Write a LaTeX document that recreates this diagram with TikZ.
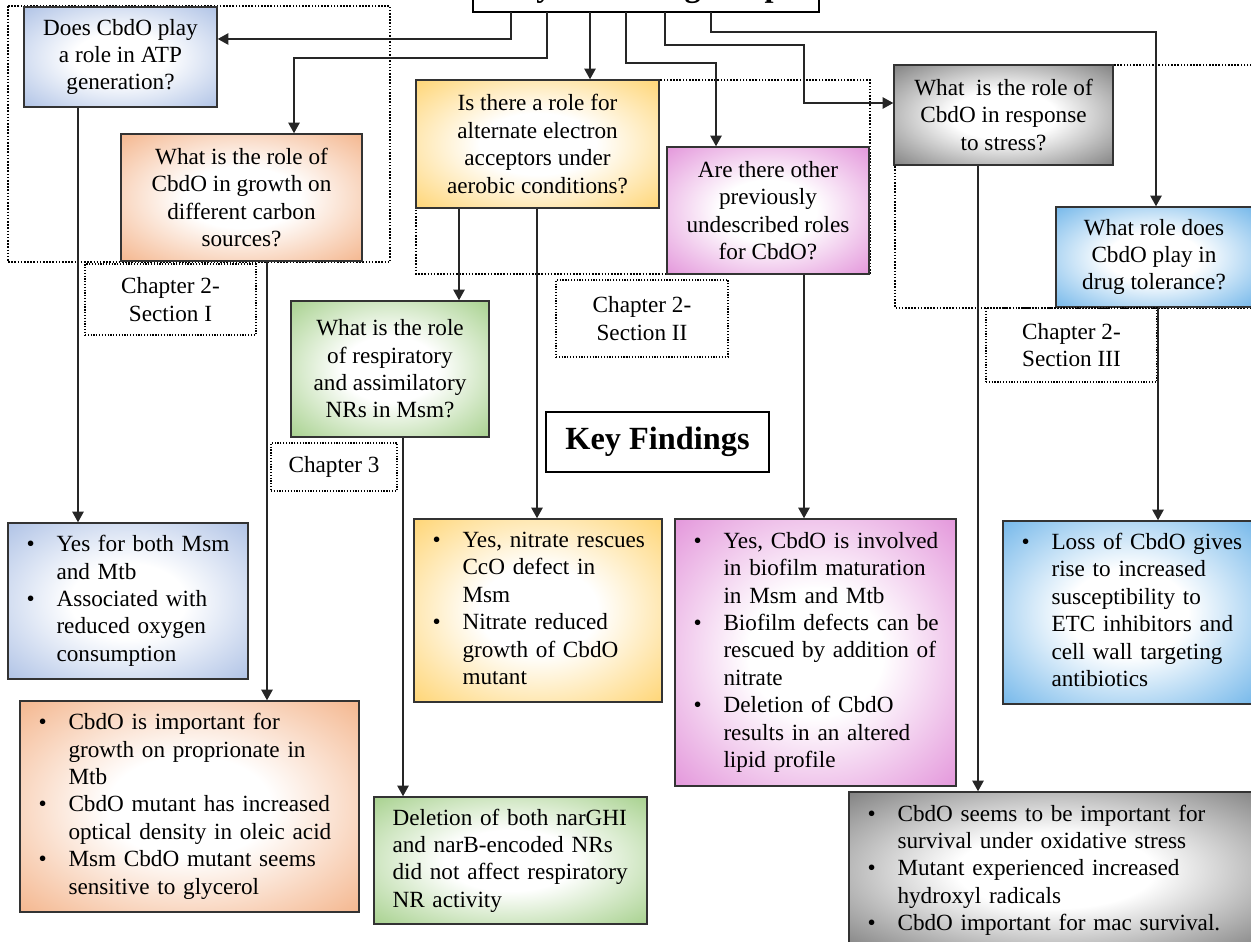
\documentclass[tikz,border=0pt]{standalone}
\usepackage{fontspec}
\setmainfont{Liberation Serif}
\usetikzlibrary{arrows.meta,calc}

\definecolor{atpblue}{RGB}{160,183,225}
\definecolor{carbonorange}{RGB}{242,168,120}
\definecolor{acceptoryellow}{RGB}{255,205,90}
\definecolor{otherpink}{RGB}{222,130,212}
\definecolor{stressgray}{RGB}{105,105,105}
\definecolor{drugcyan}{RGB}{90,170,230}
\definecolor{nrgreen}{RGB}{150,200,120}
\colorlet{boxedge}{gray}

% white centre, colour towards the rim
\pgfdeclareradialshading[boxedge]{softrim}{\pgfpoint{0bp}{0bp}}{%
  color(0bp)=(white); color(12bp)=(white); color(26bp)=(boxedge!50!white);
  color(36bp)=(boxedge!85!white); color(46bp)=(boxedge); color(50bp)=(boxedge)}

\newenvironment{findlist}{\begin{tabular}{@{}p{0.6cm}@{}l@{}}}{\end{tabular}}

\begin{document}
\begin{tikzpicture}[x=0.02cm,y=-0.02cm,>={Triangle[length=6pt,width=6.5pt]},
  every node/.style={font=\fontsize{13.2}{15.6}\selectfont},
  qbox/.style={draw=black!80,line width=0.9pt,/utils/exec={\colorlet{boxedge}{#1}},shade,shading=softrim,
    align=center,inner sep=2pt},
  findbox/.style={qbox=#1,align=left,inner xsep=0.37cm},
  grp/.style={line width=0.9pt,dash pattern=on 0.9pt off 0.9pt},
  chap/.style={draw,line width=0.7pt,dash pattern=on 0.7pt off 0.9pt,align=center},
  conn/.style={->,draw=black!85,line width=0.6pt},
  bigbox/.style={draw,line width=1.1pt,font=\fontsize{18.4}{22}\selectfont\bfseries}]
\clip (0,0) rectangle (1251,942);

% chapter groups
\draw[grp] (8,6) rectangle (390,262);
\draw[grp] (416,80) rectangle (870,274);
\draw[grp] (895,65) rectangle (1262,308);

% questions
\node[bigbox,minimum width=6.92cm,minimum height=0.94cm] (title) at (646,-11.5) {Key Knowledge Gaps};
\node[qbox=atpblue,minimum width=3.86cm,minimum height=2cm] (qatp) at (120.5,57)
  {Does CbdO play\\a role in ATP\\generation?};
\node[qbox=carbonorange,minimum width=4.82cm,minimum height=2.54cm] (qcarbon) at (241.5,197.5)
  {What is the role of\\CbdO in growth on\\different carbon\\sources?};
\node[qbox=acceptoryellow,minimum width=4.86cm,minimum height=2.56cm] (qacceptor) at (537.5,144)
  {Is there a role for\\alternate electron\\acceptors under\\aerobic conditions?};
\node[qbox=otherpink,minimum width=4.04cm,minimum height=2.54cm] (qother) at (768,210.5)
  {Are there other\\previously\\undescribed roles\\for CbdO?};
\node[qbox=stressgray,minimum width=4.38cm,minimum height=2cm] (qstress) at (1003.5,115)
  {What\ \ is the role of\\CbdO in response\\to stress?};
\node[qbox=drugcyan,minimum width=3.92cm,minimum height=2cm] (qdrug) at (1154,257)
  {What role does\\CbdO play in\\drug tolerance?};
\node[qbox=nrgreen,minimum width=3.96cm,minimum height=2.72cm] (qnr) at (390,369)
  {What is the role\\of respiratory\\and assimilatory\\NRs in Msm?};

% chapter labels
\node[chap,minimum width=3.42cm,minimum height=1.42cm] (ch1) at (170.5,299.5) {Chapter 2-\\Section I};
\node[chap,minimum width=3.44cm,minimum height=1.54cm] (ch2) at (642,318.5) {Chapter 2-\\Section II};
\node[chap,minimum width=3.42cm,minimum height=1.48cm] (ch3) at (1071.5,345) {Chapter 2-\\Section III};
\node[chap,minimum width=2.52cm,minimum height=0.96cm] (chap3) at (334,467) {Chapter 3};
\node[bigbox,minimum width=4.46cm,minimum height=1.2cm] (keyf) at (657.5,442) {Key Findings};

% findings
\node[findbox=atpblue,text width=4.06cm,minimum height=3.12cm] (fatp) at (128,601) {\begin{findlist}
  \textbullet & Yes for both Msm\\ & and Mtb\\
  \textbullet & Associated with\\ & reduced oxygen\\ & consumption
\end{findlist}};
\node[findbox=carbonorange,text width=6.04cm,minimum height=4.22cm] (fcarbon) at (189.5,806.5) {\begin{findlist}
  \textbullet & CbdO is important for\\ & growth on proprionate in\\ & Mtb\\
  \textbullet & CbdO mutant has increased\\ & optical density in oleic acid\\
  \textbullet & Msm CbdO mutant seems\\ & sensitive to glycerol
\end{findlist}};
\node[findbox=acceptoryellow,text width=4.22cm,minimum height=3.66cm] (facceptor) at (538,610.5) {\begin{findlist}
  \textbullet & Yes, nitrate rescues\\ & CcO defect in\\ & Msm\\
  \textbullet & Nitrate reduced\\ & growth of CbdO\\ & mutant
\end{findlist}};
\node[findbox=otherpink,text width=4.88cm,minimum height=5.34cm] (fother) at (815.5,652.5) {\begin{findlist}
  \textbullet & Yes, CbdO is involved\\ & in biofilm maturation\\ & in Msm and Mtb\\
  \textbullet & Biofilm defects can be\\ & rescued by addition of\\ & nitrate\\
  \textbullet & Deletion of CbdO\\ & results in an altered\\ & lipid profile
\end{findlist}};
\node[findbox=drugcyan,text width=4.26cm,minimum height=3.66cm] (fdrug) at (1128,612.5) {\begin{findlist}
  \textbullet & Loss of CbdO gives\\ & rise to increased\\ & susceptibility to\\
  & ETC inhibitors and\\ & cell wall targeting\\ & antibiotics
\end{findlist}};
\node[findbox=nrgreen,text width=4.72cm,minimum height=2.54cm] (fnr) at (510.5,860.5)
  {Deletion of both narGHI\\and narB-encoded NRs\\did not affect respiratory\\NR activity};
\node[findbox=stressgray,text width=7.52cm,minimum height=3.14cm] (fstress) at (1055.5,870.5) {\begin{findlist}
  \textbullet & CbdO seems to be important for\\ & survival under oxidative stress\\
  \textbullet & Mutant experienced increased\\ & hydroxyl radicals\\
  \textbullet & CbdO important for mac survival.
\end{findlist}};

% from the title to the questions
\coordinate (t1) at (511,12);
\coordinate (t2) at (547,12);
\coordinate (t3) at (590,12);
\coordinate (t4) at (626,12);
\coordinate (t5) at (665,12);
\coordinate (t6) at (711,12);
\coordinate (b1) at (511,39);
\coordinate (b2) at (294,58);
\coordinate (b4) at (716,63);
\coordinate (b5) at (804,45);
\coordinate (b5b) at (804,103);
\coordinate (b6) at (1156,32);
\draw[conn] (t1) -- (b1) -- (qatp.east |- b1);
\draw[conn] (t2) |- (b2) -- (qcarbon.north -| b2);
\draw[conn] (t3) -- (qacceptor.north -| t3);
\draw[conn] (t4) |- (b4) -- (qother.north -| b4);
\draw[conn] (t5) |- (b5) -- (b5b) -- (qstress.west |- b5b);
\draw[conn] (t6) |- (b6) -- (qdrug.north -| b6);

% from the questions down to the findings
\foreach \from/\to/\x in {qatp/fatp/78,qcarbon/fcarbon/267,qacceptor/qnr/459,qacceptor/facceptor/537,
    qnr/fnr/403,qother/fother/804,qstress/fstress/978,qdrug/fdrug/1158} {
  \coordinate (vx) at (\x,0);
  \draw[conn] (\from.south -| vx) -- (\to.north -| vx);
}
\end{tikzpicture}
\end{document}
